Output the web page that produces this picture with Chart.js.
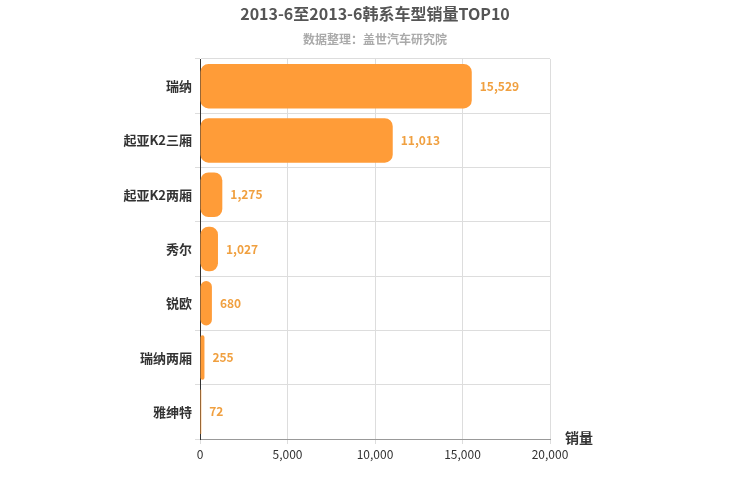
<!DOCTYPE html>
<html><head><meta charset="utf-8">
<script src="https://cdn.jsdelivr.net/npm/chart.js@4/dist/chart.umd.min.js"></script>
<style>html,body{margin:0;padding:0;background:#fff}#w{width:750px;height:500px}</style>
</head><body><div id="w"><canvas id="c"></canvas></div>
<script>
const categories = ["瑞纳","起亚K2三厢","起亚K2两厢","秀尔","锐欧","瑞纳两厢","雅绅特"];
const sales = [15529,11013,1275,1027,680,255,72];
const xTicks = [0,5000,10000,15000,20000];
const titleText = "2013-6至2013-6韩系车型销量TOP10";
const subtitleText = "数据整理：盖世汽车研究院";
const axisName = "销量";
const FONT = "'Noto Sans CJK SC', 'Liberation Sans', sans-serif";

const deco = {
  id:'deco',
  afterDatasetsDraw(chart){
    const ctx = chart.ctx;
    const meta = chart.getDatasetMeta(0);
    ctx.save();
    ctx.font = "bold 12px " + FONT;
    ctx.fillStyle = "#f0a040";
    ctx.textBaseline = "middle";
    ctx.textAlign = "left";
    meta.data.forEach((b,i)=>{
      ctx.fillText(sales[i].toLocaleString('en-US'), b.x + 8, b.y);
    });
    ctx.restore();
  },
  afterDraw(chart){
    const ctx = chart.ctx;
    ctx.save();
    ctx.textAlign = "center";
    ctx.textBaseline = "middle";
    ctx.fillStyle = "#555";
    ctx.font = "bold 16px " + FONT;
    ctx.fillText(titleText, 375, 14);
    ctx.fillStyle = "#aaa";
    ctx.font = "bold 12px " + FONT;
    ctx.fillText(subtitleText, 375, 39);
    ctx.fillStyle = "#333";
    ctx.font = "bold 14px " + FONT;
    ctx.textAlign = "left";
    ctx.fillText(axisName, 565, 438);
    ctx.restore();
  }
};

new Chart(document.getElementById('c'), {
  type:'bar',
  data:{labels:categories, datasets:[{data:sales, backgroundColor:'#ff9c38', borderRadius:8, borderSkipped:false, barPercentage:0.82, categoryPercentage:1}]},
  options:{
    indexAxis:'y', responsive:true, maintainAspectRatio:false, animation:false,
    layout:{padding:{left:0,right:200,top:59,bottom:31}},
    plugins:{legend:{display:false}, tooltip:{enabled:false}},
    scales:{
      x:{min:0,max:20000, afterBuildTicks:s=>{s.ticks=xTicks.map(v=>({value:v}));},
        afterFit:s=>{s.height=30;},
        grid:{color:'#ddd', drawTicks:true, tickLength:5},
        border:{color:'#999'},
        ticks:{color:'#333', font:{size:12,family:FONT}, callback:v=>Number(v).toLocaleString('en-US'), maxRotation:0}},
      y:{afterFit:s=>{s.width=200;},
        grid:{color:'#ddd', offset:true, tickLength:5},
        border:{color:'#333'},
        ticks:{color:'#333', font:{size:13,weight:'bold',family:FONT}}}
    }
  },
  plugins:[deco]
});
</script></body></html>
